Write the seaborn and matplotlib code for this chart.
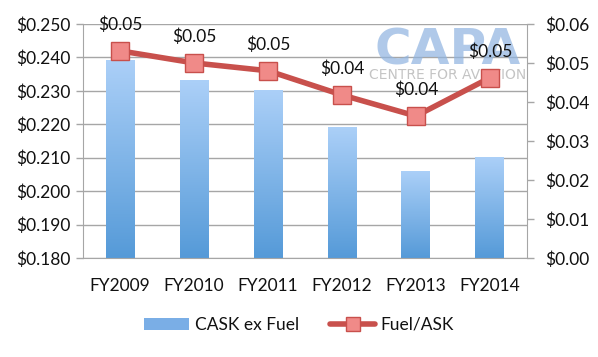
import numpy as np
import pandas as pd
import matplotlib
matplotlib.use("Agg")
import matplotlib.pyplot as plt
from matplotlib.colors import LinearSegmentedColormap
from matplotlib.patches import Patch
from matplotlib.lines import Line2D
import seaborn as sns

years = ["FY2009", "FY2010", "FY2011", "FY2012", "FY2013", "FY2014"]
cask_ex_fuel = [0.2393, 0.2333, 0.2303, 0.2193, 0.2061, 0.2103]
fuel_ask = [0.0531, 0.0500, 0.0480, 0.0418, 0.0364, 0.0462]
left_ticks = [0.180, 0.190, 0.200, 0.210, 0.220, 0.230, 0.240, 0.250]
right_ticks = [0.00, 0.01, 0.02, 0.03, 0.04, 0.05, 0.06]

df = pd.DataFrame({"year": years, "cask": cask_ex_fuel, "fuel": fuel_ask})

sns.set_style("white")
plt.rcParams["font.family"] = ["Lato", "DejaVu Sans"]
plt.rcParams["text.color"] = "#111111"
fs = 12.5

fig = plt.figure(figsize=(5.98, 3.57), dpi=100)
ax = fig.add_axes([0.139, 0.277, 0.742, 0.656])

sns.barplot(data=df, x="year", y="cask", color="#7aaee6", width=0.39, ax=ax)

# vertical gradient inside each bar
grad = LinearSegmentedColormap.from_list("g", ["#559ad8", "#acd0f8"])
for p in ax.patches:
    x0, w, h = p.get_x(), p.get_width(), p.get_height()
    img = ax.imshow(np.linspace(0, 1, 256).reshape(-1, 1), cmap=grad, origin="lower",
                    extent=[x0, x0 + w, 0.180, h], aspect="auto", zorder=2)
    img.set_clip_path(p)
    p.set_facecolor("none")
    p.set_edgecolor("none")
ax.set_xlim(-0.5, 5.5)
ax.set_ylim(0.180, 0.250)

ax.set_yticks(left_ticks)
ax.set_yticklabels([f"${v:.3f}" for v in left_ticks], fontsize=fs, color="#111111")
ax.yaxis.grid(True, color="#a6a6a6", linewidth=1)
ax.set_axisbelow(True)
ax.set_xlabel("")
ax.set_ylabel("")
ax.set_xticks(range(len(years)))
ax.set_xticklabels(years, fontsize=fs, color="#111111")
ax.set_xticks(np.arange(-0.5, 6, 1), minor=True)
ax.tick_params(axis="x", which="major", length=0, pad=14)
ax.tick_params(axis="x", which="minor", length=5, color="#a6a6a6", width=1)
ax.tick_params(axis="y", length=5, color="#a6a6a6", width=1, left=True, pad=4)
for s in ["top", "right"]:
    ax.spines[s].set_visible(False)
for s in ["left", "bottom"]:
    ax.spines[s].set_color("#a6a6a6")

# watermark behind the line
ax.text(0.822, 0.885, "CAPA", transform=ax.transAxes, fontsize=36, fontweight="bold",
        family="DejaVu Sans", color="#8fb3e0", alpha=0.7, ha="center", va="center", zorder=1)
ax.text(0.822, 0.78, "CENTRE FOR AVIATION", transform=ax.transAxes, fontsize=10,
        family="DejaVu Sans", color="#c4c4c4", ha="center", va="center", zorder=1)

ax2 = ax.twinx()
sns.lineplot(x=np.arange(len(years)), y=fuel_ask, ax=ax2, color="#c8504c", linewidth=4,
             marker="s", markersize=13, markerfacecolor="#f08a88",
             markeredgecolor="#c8504c", markeredgewidth=1, zorder=5)
ax2.set_ylim(0, 0.06)
ax2.set_xlim(-0.5, 5.5)
ax2.set_yticks(right_ticks)
ax2.set_yticklabels([f"${v:.2f}" for v in right_ticks], fontsize=fs, color="#111111")
ax2.tick_params(axis="y", length=5, color="#a6a6a6", width=1, right=True, pad=8)
for s in ["top", "left", "bottom"]:
    ax2.spines[s].set_visible(False)
ax2.spines["right"].set_color("#a6a6a6")
ax2.set_ylabel("")

for i, v in enumerate(fuel_ask):
    ax2.annotate(f"${v:.2f}", (i, v), xytext=(0, 19), textcoords="offset points",
                 ha="center", va="center", fontsize=fs, zorder=6)

handles = [Patch(facecolor="#7aaee6", edgecolor="none"),
           Line2D([0], [0], color="#c8504c", linewidth=4, marker="s", markersize=10,
                  markerfacecolor="#f08a88", markeredgecolor="#c8504c")]
fig.legend(handles, ["CASK ex Fuel", "Fuel/ASK"], loc="center", ncol=2,
           bbox_to_anchor=(0.5, 0.09), frameon=False, fontsize=fs,
           handlelength=2.6, columnspacing=1.8, handletextpad=0.3)

fig.savefig("out.png", dpi=100)
